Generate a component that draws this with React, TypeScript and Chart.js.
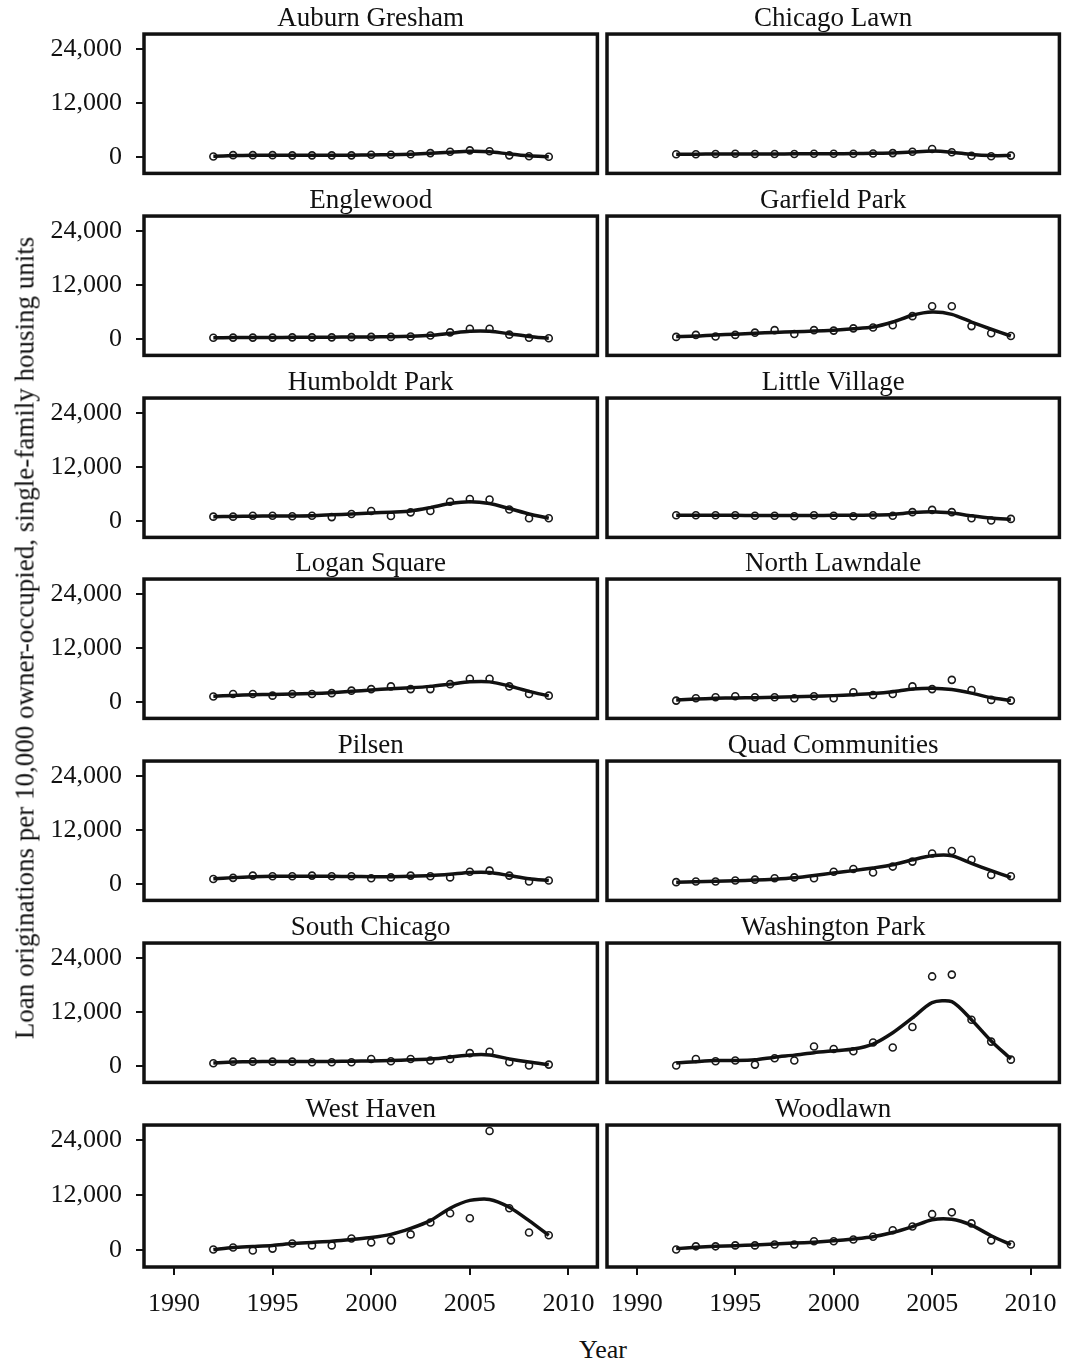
import React, { useEffect, useRef } from 'react';
import { Chart, registerables } from 'chart.js';
Chart.register(...registerables);

const years = [1992, 1993, 1994, 1995, 1996, 1997, 1998, 1999, 2000, 2001, 2002, 2003, 2004, 2005, 2006, 2007, 2008, 2009];
const xTickValues = [1990, 1995, 2000, 2005, 2010];
const yTickValues = [0, 12000, 24000];

const auburnGreshamObs = [150, 450, 450, 450, 400, 400, 400, 400, 550, 550, 650, 900, 1200, 1500, 1300, 400, 200, 100];
const auburnGreshamFit = [200, 350, 400, 400, 400, 400, 400, 450, 500, 550, 650, 850, 1100, 1300, 1200, 700, 300, 100];
const chicagoLawnObs = [650, 650, 700, 750, 700, 700, 700, 750, 750, 750, 800, 900, 1200, 1800, 1100, 300, 200, 350];
const chicagoLawnFit = [650, 650, 700, 700, 700, 700, 750, 750, 750, 800, 850, 950, 1150, 1350, 1100, 600, 350, 350];
const englewoodObs = [300, 350, 350, 350, 400, 400, 400, 450, 500, 500, 600, 800, 1500, 2300, 2300, 1000, 300, 200];
const englewoodFit = [300, 350, 350, 350, 400, 400, 450, 500, 500, 550, 650, 850, 1300, 1750, 1750, 1200, 600, 200];
const garfieldParkObs = [500, 950, 600, 950, 1450, 2000, 1150, 2000, 1900, 2400, 2600, 3100, 5100, 7300, 7300, 2900, 1300, 700];
const garfieldParkFit = [580, 700, 950, 1100, 1300, 1500, 1650, 1800, 2000, 2300, 2700, 3800, 5300, 6000, 5500, 3800, 2200, 700];
const humboldtParkObs = [1000, 1000, 1200, 1200, 1100, 1200, 900, 1600, 2250, 1150, 1950, 2250, 4300, 4900, 4800, 2600, 650, 650];
const humboldtParkFit = [1000, 1050, 1100, 1150, 1150, 1200, 1400, 1600, 1800, 2000, 2250, 3000, 3900, 4300, 3900, 2800, 1600, 650];
const littleVillageObs = [1300, 1300, 1300, 1300, 1200, 1200, 1100, 1300, 1200, 1100, 1300, 1200, 2000, 2500, 2000, 650, 150, 500];
const littleVillageFit = [1300, 1300, 1300, 1300, 1250, 1250, 1250, 1250, 1300, 1300, 1350, 1500, 1900, 2100, 1800, 1200, 700, 400];
const loganSquareObs = [1250, 1800, 1800, 1450, 1800, 1800, 2000, 2550, 2900, 3500, 2900, 2900, 4000, 5200, 5200, 3500, 1800, 1450];
const loganSquareFit = [1300, 1500, 1650, 1700, 1800, 1900, 2100, 2400, 2700, 3000, 3200, 3500, 4000, 4500, 4500, 3600, 2400, 1400];
const northLawndaleObs = [350, 870, 1100, 1300, 1100, 1100, 870, 1300, 870, 2200, 1600, 1800, 3500, 2900, 4950, 2700, 500, 350];
const northLawndaleFit = [500, 700, 850, 950, 1000, 1100, 1200, 1300, 1450, 1650, 1900, 2300, 2900, 3100, 2800, 2000, 1000, 400];
const pilsenObs = [1150, 1400, 1900, 1750, 1750, 1900, 1750, 1750, 1300, 1500, 1900, 1750, 1500, 2750, 3000, 1900, 600, 800];
const pilsenFit = [1200, 1450, 1650, 1750, 1750, 1750, 1750, 1700, 1650, 1650, 1750, 1900, 2200, 2600, 2600, 1900, 1200, 800];
const quadCommunitiesObs = [450, 600, 600, 800, 1000, 1300, 1500, 1300, 2750, 3350, 2600, 3900, 5000, 6800, 7350, 5400, 2050, 1750];
const quadCommunitiesFit = [450, 550, 650, 750, 900, 1100, 1400, 1900, 2500, 3000, 3600, 4300, 5400, 6300, 6300, 4600, 3000, 1500];
const southChicagoObs = [650, 1000, 1000, 1000, 1000, 870, 870, 870, 1600, 1100, 1600, 1250, 1600, 2900, 3200, 870, 150, 350];
const southChicagoFit = [700, 900, 1000, 1050, 1050, 1050, 1050, 1100, 1150, 1250, 1400, 1600, 2000, 2500, 2500, 1600, 900, 350];
const washingtonParkObs = [150, 1600, 1100, 1250, 350, 1750, 1250, 4350, 3800, 3300, 5250, 4150, 8700, 19900, 20300, 10300, 5450, 1450];
const washingtonParkFit = [700, 1000, 1250, 1250, 1400, 2000, 2450, 3000, 3400, 3800, 4900, 7400, 10700, 14100, 14300, 10300, 5600, 1600];
const westHavenObs = [200, 650, 0, 400, 1500, 1100, 1100, 2600, 1750, 2200, 3500, 6100, 8100, 7000, 26000, 9200, 3900, 3300];
const westHavenFit = [200, 650, 870, 1100, 1500, 1750, 2000, 2400, 2800, 3500, 4800, 6500, 9200, 10900, 11100, 9400, 6500, 3300];
const woodlawnObs = [200, 900, 900, 1100, 1100, 1300, 1300, 2000, 2000, 2400, 3000, 4400, 5200, 7900, 8300, 5900, 2200, 1300];
const woodlawnFit = [400, 700, 900, 1050, 1200, 1400, 1600, 1800, 2100, 2500, 3000, 3900, 5200, 6700, 6800, 5500, 3200, 1300];

const neighborhoods = [
  'Auburn Gresham', 'Chicago Lawn', 'Englewood', 'Garfield Park', 'Humboldt Park', 'Little Village',
  'Logan Square', 'North Lawndale', 'Pilsen', 'Quad Communities', 'South Chicago', 'Washington Park',
  'West Haven', 'Woodlawn',
];
const observedSeries = [
  auburnGreshamObs, chicagoLawnObs, englewoodObs, garfieldParkObs, humboldtParkObs, littleVillageObs,
  loganSquareObs, northLawndaleObs, pilsenObs, quadCommunitiesObs, southChicagoObs, washingtonParkObs,
  westHavenObs, woodlawnObs,
];
const fittedSeries = [
  auburnGreshamFit, chicagoLawnFit, englewoodFit, garfieldParkFit, humboldtParkFit, littleVillageFit,
  loganSquareFit, northLawndaleFit, pilsenFit, quadCommunitiesFit, southChicagoFit, washingtonParkFit,
  westHavenFit, woodlawnFit,
];

const FONT = "'Liberation Serif', 'DejaVu Serif', serif";
const INK = '#111111';
const PANEL_W = 455;
const PANEL_H = 142;
const ROW0_TOP = 34;
const ROW_PITCH = 181.8;
const TITLE_BLOCK = 34;
const Y_AXIS_W = 124;
const X_AXIS_H = 60;

const framePlugin = {
  id: 'panelFrame',
  afterDatasetsDraw(chart: any) {
    const { ctx, chartArea: a } = chart;
    ctx.save();
    ctx.strokeStyle = INK;
    ctx.lineWidth = 3.5;
    ctx.strokeRect(a.left, a.top, a.right - a.left, a.bottom - a.top);
    ctx.restore();
  },
};

function Panel({ index }: { index: number }) {
  const ref = useRef<HTMLCanvasElement>(null);
  const col = index % 2;
  const row = Math.floor(index / 2);
  const isLeft = col === 0;
  const isBottom = row === 6;
  const top = ROW0_TOP + row * ROW_PITCH;
  const canvasLeft = isLeft ? 20 : 600;
  const canvasTop = top - TITLE_BLOCK;
  const width = isLeft ? Y_AXIS_W + PANEL_W + 4 : 7 + PANEL_W + 3;
  const height = TITLE_BLOCK + PANEL_H + (isBottom ? X_AXIS_H : 3);

  useEffect(() => {
    const obs = observedSeries[index];
    const fit = fittedSeries[index];
    const tickFont = { family: FONT, size: 26, weight: 'normal' as const, lineHeight: 1.2 };
    const chart = new Chart(ref.current as HTMLCanvasElement, {
      type: 'scatter',
      data: {
        datasets: [
          {
            data: years.map((y, i) => ({ x: y, y: fit[i] })),
            showLine: true,
            borderColor: INK,
            borderWidth: 3.5,
            pointRadius: 0,
            tension: 0.25,
            order: 0,
          },
          {
            data: years.map((y, i) => ({ x: y, y: obs[i] })),
            showLine: false,
            pointRadius: 3.5,
            pointBorderWidth: 1.6,
            pointBorderColor: '#1a1a1a',
            pointBackgroundColor: 'rgba(255,255,255,0)',
            order: 1,
          },
        ],
      },
      options: {
        responsive: false,
        animation: false,
        devicePixelRatio: 1,
        layout: { padding: { left: isLeft ? 0 : 7, right: isLeft ? 4 : 3, top: 0, bottom: isBottom ? 0 : 3 } },
        plugins: {
          legend: { display: false },
          tooltip: { enabled: false },
          title: {
            display: true,
            fullSize: false,
            text: neighborhoods[index],
            color: INK,
            font: { family: FONT, size: 27, weight: 'normal', lineHeight: 1.15 },
            padding: { top: 3, bottom: 0 },
          },
        },
        scales: {
          x: {
            type: 'linear',
            min: 1988.485,
            max: 2011.465,
            display: isBottom,
            afterBuildTicks: (s: any) => { s.ticks = xTickValues.map((v) => ({ value: v })); },
            afterFit: (s: any) => {
              if (isBottom) s.height = X_AXIS_H;
              s.paddingLeft = 0; s.paddingRight = 0;
            },
            grid: { display: true, drawOnChartArea: false, drawTicks: true, tickLength: 8, color: INK, lineWidth: 2 },
            border: { display: false },
            ticks: { padding: 14, color: INK, font: tickFont, maxRotation: 0, autoSkip: false, callback: (v: any) => String(v) },
          },
          y: {
            type: 'linear',
            min: -3600,
            max: 27300,
            display: isLeft,
            afterBuildTicks: (s: any) => { s.ticks = yTickValues.map((v) => ({ value: v })); },
            afterFit: (s: any) => {
              if (isLeft) s.width = Y_AXIS_W;
              s.paddingTop = 0; s.paddingBottom = 0;
            },
            grid: { display: true, drawOnChartArea: false, drawTicks: true, tickLength: 8, color: INK, lineWidth: 2 },
            border: { display: false },
            ticks: { padding: 14, color: INK, font: tickFont, autoSkip: false, callback: (v: any) => Number(v).toLocaleString('en-US') },
          },
        },
      },
      plugins: [framePlugin],
    } as any);
    return () => chart.destroy();
  }, [index]);

  return (
    <canvas
      ref={ref}
      width={width}
      height={height}
      style={{ position: 'absolute', left: canvasLeft, top: canvasTop, width, height }}
    />
  );
}

export default function App() {
  return (
    <div style={{ position: 'absolute', left: 0, top: 0, width: 1065, height: 1365, background: '#fff', fontFamily: FONT, color: INK }}>
      {neighborhoods.map((_, i) => (
        <Panel key={i} index={i} />
      ))}
      <div
        style={{
          position: 'absolute', left: 25, top: 638, fontSize: 27, whiteSpace: 'nowrap',
          transform: 'translate(-50%, -50%) rotate(-90deg)',
        }}
      >
        Loan originations per 10,000 owner-occupied, single-family housing units
      </div>
      <div
        style={{
          position: 'absolute', left: 603, top: 1350, fontSize: 26, whiteSpace: 'nowrap',
          transform: 'translate(-50%, -50%)',
        }}
      >
        Year
      </div>
    </div>
  );
}
